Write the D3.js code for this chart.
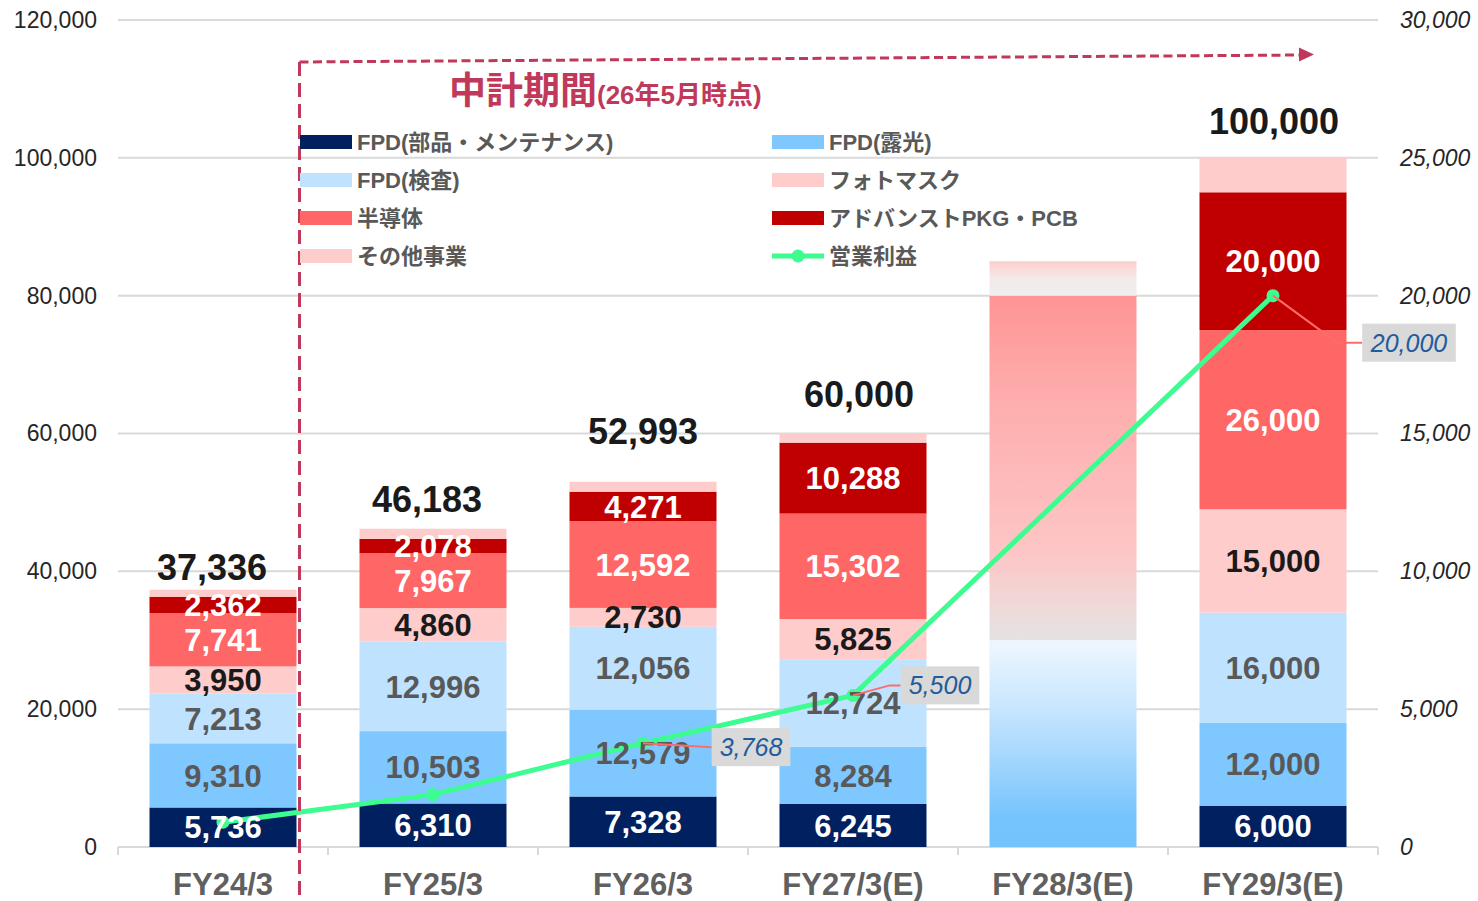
<!DOCTYPE html>
<html><head><meta charset="utf-8">
<script src="https://cdn.jsdelivr.net/npm/d3@7/dist/d3.min.js"></script>
<style>body{margin:0;background:#fff} svg{display:block}</style>
</head><body><svg id="c" width="1478" height="901"></svg>
<script>
// ---------- DATA ----------
const categories = ["FY24/3","FY25/3","FY26/3","FY27/3(E)","FY28/3(E)","FY29/3(E)"];
const seriesNames = ["FPD(部品・メンテナンス)","FPD(露光)","FPD(検査)","フォトマスク","半導体","アドバンストPKG・PCB","その他事業"];
const fpdParts      = [5736, 6310, 7328, 6245, null, 6000];
const fpdExposure   = [9310, 10503, 12579, 8284, null, 12000];
const fpdInspection = [7213, 12996, 12056, 12724, null, 16000];
const photomask     = [3950, 4860, 2730, 5825, null, 15000];
const semiconductor = [7741, 7967, 12592, 15302, null, 26000];
const advancedPkg   = [2362, 2078, 4271, 10288, null, 20000];
const otherBiz      = [1024, 1469, 1437, 1332, null, 5000];
const totals        = [37336, 46183, 52993, 60000, null, 100000];
const fy28Outlook   = [30000, 50000, 5000];   // FY28/3(E) outlook bands (FPD / semiconductor etc. / other)
const operatingProfit = [900, 1900, 3768, 5500, null, 20000];
const profitLabels    = [null, null, "3,768", "5,500", null, "20,000"];
const lineName = "営業利益";
const leftTicks  = [0, 20000, 40000, 60000, 80000, 100000, 120000];
const rightTicks = [0, 5000, 10000, 15000, 20000, 25000, 30000];
const titleMain = "中計期間";
const titleSub  = "(26年5月時点)";

// ---------- STYLE / LAYOUT ----------
const W = 1478, H = 901;
const plot = {left: 118, right: 1378, top: 20, bottom: 847};
const colors = ["#002060","#7fc7ff","#bfe3ff","#ffcccc","#ff6666","#c00000","#ffcccc"];
const labelColors = ["#ffffff","#595959","#595959","#1a1a1a","#ffffff","#ffffff",null];
const totalOffsets = [[-11,-10],[-6,-17],[0,-38],[6,-27],[0,0],[1,-24]];
const profitBoxOffsets = [null,null,[108,4,0],[87,-10,11],null,[136,47,25]];
const accent = "#c0395b";
const numFont = "'Liberation Sans', Arial, sans-serif";
const jpFont = "'Liberation Sans', 'Noto Sans CJK JP', sans-serif";

const svg = d3.select("#c");
const defs = svg.append("defs");
function grad(id, stops){
  const g = defs.append("linearGradient").attr("id", id).attr("x1",0).attr("y1",0).attr("x2",0).attr("y2",1);
  stops.forEach(s => g.append("stop").attr("offset", s[0]).attr("stop-color", s[1]));
}
grad("gBlue", [[0,"#eef7ff"],[0.35,"#c5e5fd"],[0.65,"#98d1fd"],[0.85,"#76c4fd"],[1,"#74c3fd"]]);
grad("gRed", [[0,"#ff9494"],[0.3,"#feadad"],[0.75,"#fdc6c6"],[0.9,"#f0d8d8"],[1,"#e3e3e3"]]);
grad("gPink", [[0,"#ffcdcd"],[0.5,"#f3eaea"],[1,"#efefef"]]);
const fy28Fills = ["url(#gBlue)","url(#gRed)","url(#gPink)"];

const x = d3.scaleBand().domain(categories).range([plot.left, plot.right]).paddingInner(0.3).paddingOuter(0.15);
const y = d3.scaleLinear().domain([0,120000]).range([plot.bottom, plot.top]);
const y2 = d3.scaleLinear().domain([0,30000]).range([plot.bottom, plot.top]);

// gridlines
svg.append("g").selectAll("line").data(leftTicks).join("line")
  .attr("x1", plot.left).attr("x2", plot.right)
  .attr("y1", d => y(d)).attr("y2", d => y(d))
  .attr("stroke", "#d9d9d9").attr("stroke-width", 2);

// category boundary ticks
const step = x.step();
const bounds = d3.range(categories.length + 1).map(i => plot.left + i * step);
svg.append("g").selectAll("line").data(bounds).join("line")
  .attr("x1", d => d).attr("x2", d => d)
  .attr("y1", plot.bottom).attr("y2", plot.bottom + 8)
  .attr("stroke", "#d9d9d9").attr("stroke-width", 2);

// axes labels
const axL = svg.append("g").attr("transform", `translate(${plot.left},0)`)
  .call(d3.axisLeft(y).tickValues(leftTicks).tickFormat(d3.format(",")).tickSize(0).tickPadding(21));
axL.select(".domain").remove();
axL.selectAll("text").attr("font-family", numFont).attr("font-size", 23).attr("fill", "#262626");

const axR = svg.append("g").attr("transform", `translate(${plot.right},0)`)
  .call(d3.axisRight(y2).tickValues(rightTicks).tickFormat(d3.format(",")).tickSize(0).tickPadding(22));
axR.select(".domain").remove();
axR.selectAll("text").attr("font-family", numFont).attr("font-size", 23).attr("font-style", "italic").attr("fill", "#262626");

const axB = svg.append("g").attr("transform", `translate(0,${plot.bottom})`)
  .call(d3.axisBottom(x).tickSize(0).tickPadding(26));
axB.select(".domain").remove();
axB.selectAll("text").attr("font-family", numFont).attr("font-size", 31).attr("font-weight", "bold").attr("fill", "#606060");

// stacked bars
const series = [fpdParts, fpdExposure, fpdInspection, photomask, semiconductor, advancedPkg, otherBiz];
const keys = seriesNames;
const rows = categories.map((c, i) => {
  const r = {cat: c, idx: i};
  keys.forEach((k, j) => r[k] = series[j][i] == null ? 0 : series[j][i]);
  return r;
});
const stacked = d3.stack().keys(keys)(rows);
const gBars = svg.append("g");
stacked.forEach((s, j) => {
  gBars.selectAll(null).data(s.filter(d => series[j][d.data.idx] != null)).join("rect")
    .attr("x", d => x(d.data.cat)).attr("width", x.bandwidth())
    .attr("y", d => y(d[1])).attr("height", d => y(d[0]) - y(d[1]))
    .attr("fill", colors[j]);
});

// FY28 outlook gradient bar
const fy28Cat = categories[4];
let acc = 0;
fy28Outlook.forEach((v, i) => {
  gBars.append("rect").attr("x", x(fy28Cat)).attr("width", x.bandwidth())
    .attr("y", y(acc + v)).attr("height", y(acc) - y(acc + v)).attr("fill", fy28Fills[i]);
  acc += v;
});

// operating profit line
const pts = categories.map((c, i) => ({cat: c, v: operatingProfit[i], i})).filter(d => d.v != null);
const lineGen = d3.line().x(d => x(d.cat) + x.bandwidth()/2).y(d => y2(d.v));
svg.append("path").datum(pts).attr("d", lineGen).attr("fill", "none")
  .attr("stroke", "#3dfc90").attr("stroke-width", 5).attr("stroke-linejoin", "round");
svg.append("g").selectAll("circle").data(pts).join("circle")
  .attr("cx", d => x(d.cat) + x.bandwidth()/2).attr("cy", d => y2(d.v)).attr("r", 6.5)
  .attr("fill", "#3dfc90");

// segment labels
const gLab = svg.append("g");
stacked.forEach((s, j) => {
  if (!labelColors[j]) return;
  gLab.selectAll(null).data(s.filter(d => series[j][d.data.idx] != null)).join("text")
    .attr("x", d => x(d.data.cat) + x.bandwidth()/2)
    .attr("y", d => (y(d[0]) + y(d[1]))/2).attr("dy", "0.36em")
    .attr("text-anchor", "middle").attr("font-family", numFont).attr("font-size", 31)
    .attr("font-weight", "bold").attr("fill", labelColors[j])
    .text(d => d3.format(",")(series[j][d.data.idx]));
});

// totals
gLab.selectAll(null).data(categories.map((c, i) => ({c, i, v: totals[i]})).filter(d => d.v != null)).join("text")
  .attr("x", d => x(d.c) + x.bandwidth()/2 + totalOffsets[d.i][0])
  .attr("y", d => y(d.v) + totalOffsets[d.i][1])
  .attr("text-anchor", "middle").attr("font-family", numFont).attr("font-size", 36)
  .attr("font-weight", "bold").attr("fill", "#1a1a1a")
  .text(d => d3.format(",")(d.v));

// profit callouts
pts.forEach(d => {
  const lab = profitLabels[d.i];
  if (!lab) return;
  const o = profitBoxOffsets[d.i];
  const px = x(d.cat) + x.bandwidth()/2, py = y2(d.v);
  const cx = px + o[0], cy = py + o[1];
  const g = svg.append("g");
  const t = g.append("text").attr("x", cx).attr("y", cy).attr("dy", "0.36em").attr("text-anchor", "middle")
    .attr("font-family", numFont).attr("font-size", 25).attr("font-style", "italic").attr("fill", "#1f5c9a").text(lab);
  const bb = t.node().getBBox();
  const bw = bb.width + 16, bh = 38;
  const bl = cx - bw/2;
  g.insert("path", "text").attr("d", `M${px},${py}L${bl - o[2]},${cy}L${bl},${cy}`)
    .attr("fill", "none").attr("stroke", "#ff6b6b").attr("stroke-width", 2);
  g.insert("rect", "text").attr("x", bl).attr("y", cy - bh/2).attr("width", bw).attr("height", bh).attr("fill", "#d9d9d9");
});

// mid-term plan markers
const vx = 299.5;
svg.append("line").attr("x1", vx).attr("x2", vx).attr("y1", 62).attr("y2", H)
  .attr("stroke", accent).attr("stroke-width", 3).attr("stroke-dasharray", "14,7");
svg.append("line").attr("x1", vx).attr("x2", 1300).attr("y1", 62).attr("y2", 55)
  .attr("stroke", accent).attr("stroke-width", 3).attr("stroke-dasharray", "9,4.5");
svg.append("path").attr("d", "M1299,47.5L1314,54.5L1299,61.5Z").attr("fill", accent);
const title = svg.append("text").attr("x", 449).attr("y", 104).attr("fill", accent)
  .attr("font-family", "'Noto Sans CJK JP', sans-serif").attr("font-weight", "bold");
title.append("tspan").attr("font-size", 37).text(titleMain);
title.append("tspan").attr("font-size", 26).attr("font-family", "'Liberation Sans', 'Noto Sans CJK JP', sans-serif").text(titleSub);

// legend
const legendItems = [0,1,2,3,4,5,6].map(j => ({name: seriesNames[j], color: colors[j], type: "rect"}));
legendItems.push({name: lineName, color: "#3dfc90", type: "line"});
const legCols = [300, 772], legY0 = 142, legStep = 38;
const gLeg = svg.append("g");
legendItems.forEach((it, k) => {
  const lx = legCols[k % 2], ly = legY0 + Math.floor(k / 2) * legStep;
  if (it.type === "rect") {
    gLeg.append("rect").attr("x", lx).attr("y", ly - 7).attr("width", 52).attr("height", 14).attr("fill", it.color);
  } else {
    gLeg.append("line").attr("x1", lx).attr("x2", lx + 52).attr("y1", ly).attr("y2", ly)
      .attr("stroke", it.color).attr("stroke-width", 5);
    gLeg.append("circle").attr("cx", lx + 26).attr("cy", ly).attr("r", 6.5).attr("fill", it.color);
  }
  gLeg.append("text").attr("x", lx + 57).attr("y", ly).attr("dy", "0.36em")
    .attr("font-family", jpFont).attr("font-size", 22).attr("font-weight", "bold").attr("fill", "#595959")
    .text(it.name);
});
</script></body></html>
